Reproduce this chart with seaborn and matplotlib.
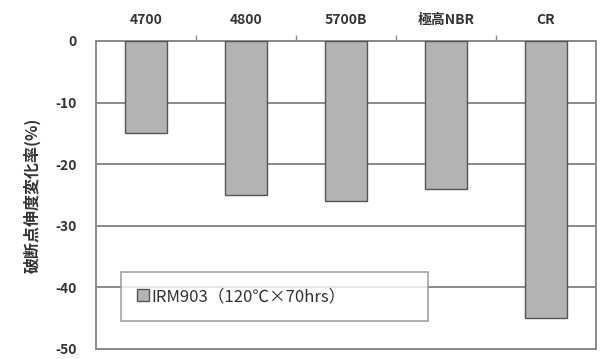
import matplotlib
matplotlib.use("Agg")
import matplotlib.pyplot as plt
import seaborn as sns
import pandas as pd

categories = ["4700", "4800", "5700B", "極高NBR", "CR"]
values = [-15, -25, -26, -24, -45]
series_name = "IRM903（120℃×70hrs）"
y_label = "破断点伸度変化率(%)"
y_ticks = [0, -10, -20, -30, -40, -50]

sns.set_theme(style="white")
plt.rcParams["font.family"] = ["Noto Sans CJK JP", "DejaVu Sans"]

df = pd.DataFrame({"cat": categories, "val": values, "series": series_name})

fig = plt.figure(figsize=(6.04, 3.59), dpi=100)
ax = fig.add_axes([96/604, 1-349/359, 500/604, 308/359])

sns.barplot(data=df, x="cat", y="val", hue="series", ax=ax,
            palette=["#b3b3b3"], width=0.42, edgecolor="#555555",
            linewidth=1.0, zorder=3, legend=True)

ax.set_ylim(-50, 0)
ax.set_xlim(-0.5, 4.5)
ax.set_yticks(y_ticks)
ax.set_yticklabels([str(t) for t in y_ticks], fontsize=10, color="#333333",
                   fontweight="bold")
ax.yaxis.grid(True, color="#8a8a8a", linewidth=1.4, zorder=0)
ax.xaxis.grid(False)

ax.xaxis.tick_top()
ax.set_xticks(range(len(categories)))
ax.set_xticklabels(categories, fontsize=10, color="#333333", fontweight="bold")
ax.tick_params(axis="x", which="major", length=0, pad=10)
ax.set_xticks([0.5, 1.5, 2.5, 3.5], minor=True)
ax.tick_params(axis="x", which="minor", top=True, bottom=False, length=4,
               direction="out", color="#8a8a8a", width=1)
ax.tick_params(axis="y", length=0, pad=14)

ax.set_xlabel("")
ax.set_ylabel(y_label, fontsize=11.5, color="#333333", labelpad=10,
              fontweight="bold")

for s in ax.spines.values():
    s.set_visible(True)
    s.set_color("#8a8a8a")
    s.set_linewidth(1.4)

leg = ax.legend(loc="center", bbox_to_anchor=(0.05, 0.091, 0.614, 0.159),
                mode="expand", fontsize=12, frameon=True, fancybox=False,
                handlelength=0.7, handleheight=0.7, handletextpad=0.2,
                borderaxespad=0, borderpad=0.95)
leg.get_frame().set_edgecolor("#8a8a8a")
leg.get_frame().set_linewidth(1.2)
leg.set_zorder(5)
for t in leg.get_texts():
    t.set_color("#333333")

fig.savefig("out.png", dpi=100, facecolor="white")
